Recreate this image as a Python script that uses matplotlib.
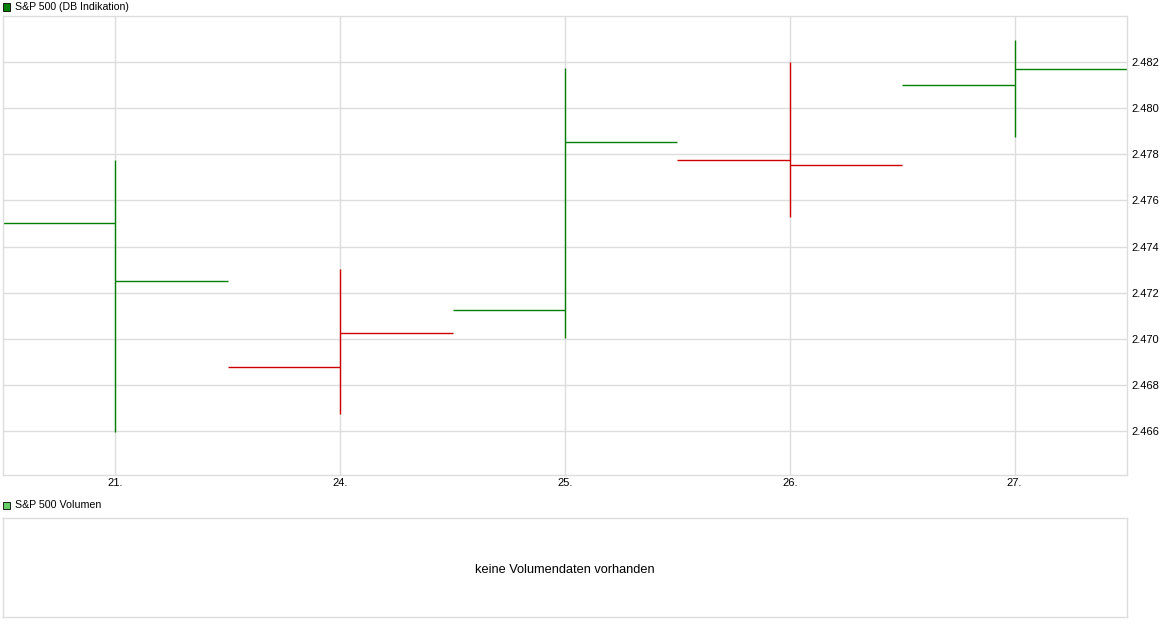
import matplotlib
matplotlib.use("Agg")
import matplotlib.pyplot as plt
from matplotlib.patches import Rectangle

plt.rcParams['font.family'] = ['Liberation Sans', 'DejaVu Sans']

days = ["21.", "24.", "25.", "26.", "27."]
opens = [2.4750, 2.46876, 2.47125, 2.47774, 2.48099]
highs = [2.47775, 2.47302, 2.48173, 2.48199, 2.48298]
lows = [2.46597, 2.46672, 2.47002, 2.47527, 2.47873]
closes = [2.47249, 2.47025, 2.47852, 2.47752, 2.48171]
bar_colors = ["#008000", "#cc0000", "#008000", "#cc0000", "#008000"]
yticks = [2.466, 2.468, 2.470, 2.472, 2.474, 2.476, 2.478, 2.480, 2.482]

W, H = 1174, 628
fig = plt.figure(figsize=(W / 100, H / 100), dpi=100)

def px_axes(x0, y0, x1, y1):
    return fig.add_axes([x0 / W, 1 - y1 / H, (x1 - x0) / W, (y1 - y0) / H])

grid_c = "#dddddd"

ax = px_axes(3, 16, 1127, 475)
xs = list(range(len(days)))
ax.set_xlim(-0.5, len(days) - 0.5)
ax.set_ylim(2.46409, 2.4840)
for i in xs:
    c = bar_colors[i]
    ax.vlines(i, lows[i], highs[i], color=c, lw=1.0)
    ax.hlines(opens[i], i - 0.5, i, color=c, lw=1.0)
    ax.hlines(closes[i], i, i + 0.5, color=c, lw=1.0)
ax.set_xticks(xs)
ax.set_xticklabels(days)
ax.set_yticks(yticks)
ax.set_yticklabels([f"{v:.3f}" for v in yticks])
ax.yaxis.tick_right()
ax.grid(True, color=grid_c, lw=1.0)
ax.set_axisbelow(True)
ax.tick_params(length=0, labelsize=8, colors="#000000")
ax.tick_params(axis='y', pad=3)
ax.tick_params(axis='x', pad=2)
for s in ax.spines.values():
    s.set_color(grid_c)
    s.set_linewidth(1.0)

# title legend for price chart
fig.patches.append(Rectangle((3 / W, 1 - 10.5 / H), 7 / W, 7 / H, transform=fig.transFigure,
                             facecolor="#008000", edgecolor="#000000", lw=0.6))
fig.text(15 / W, 1 - 6.5 / H, "S&P 500 (DB Indikation)", fontsize=7.6, va="center", ha="left")

# volume panel
ax2 = px_axes(3, 518, 1127, 617)
ax2.set_xticks([])
ax2.set_yticks([])
for s in ax2.spines.values():
    s.set_color(grid_c)
    s.set_linewidth(1.0)
ax2.text(0.5, 0.47, "keine Volumendaten vorhanden", transform=ax2.transAxes,
         ha="center", va="center", fontsize=9.2)
fig.patches.append(Rectangle((3 / W, 1 - 509 / H), 7 / W, 7 / H, transform=fig.transFigure,
                             facecolor="#66cc66", edgecolor="#000000", lw=0.6))
fig.text(15 / W, 1 - 505.5 / H, "S&P 500 Volumen", fontsize=7.7, va="center", ha="left")

fig.savefig("out.png", dpi=100)
